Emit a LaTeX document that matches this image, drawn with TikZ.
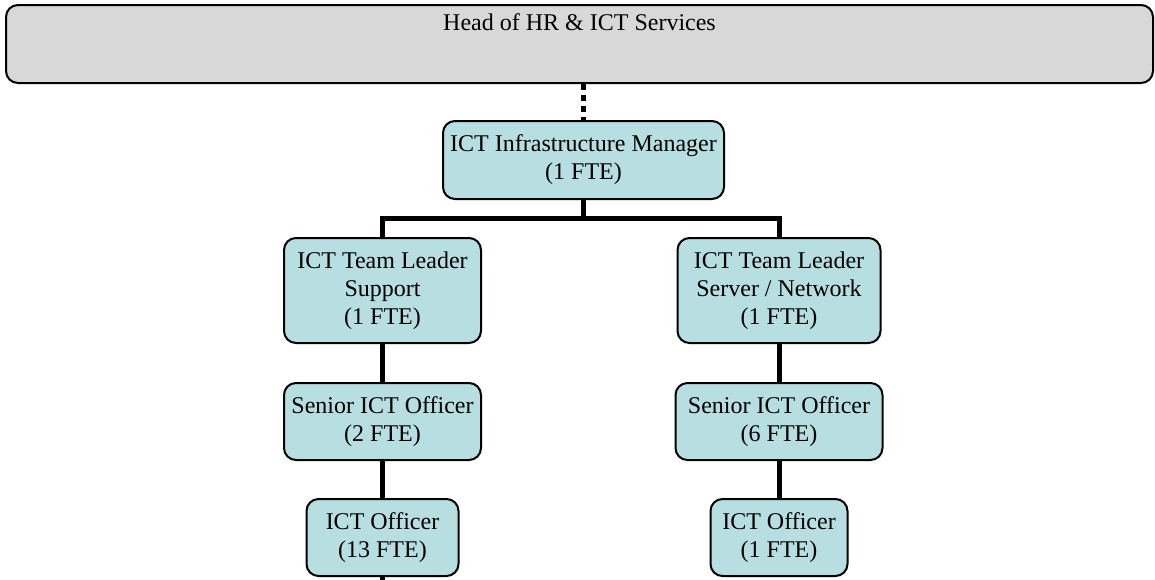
\documentclass[tikz,border=0pt]{standalone}
\usepackage{fontspec}
\setmainfont{Liberation Serif}
\begin{document}
\begin{tikzpicture}[x=0.5pt, y=-0.5pt,
        post/.style = {draw, line width=1pt, rounded corners=6pt, fill=postfill, align=center, font=\fontsize{12}{14}\selectfont, inner sep=2pt},
        link/.style = {line width=2.5pt}]
        \definecolor{postfill}{RGB}{183,222,225}
        \definecolor{headfill}{RGB}{216,216,216}
        \useasboundingbox (0, 0) rectangle (1155, 579);

        \node[post, fill=headfill, minimum width=573.5pt, text height=10.5pt, text depth=24.5pt] (head) at (579.5, 44) {Head of HR \& ICT Services};

        \node[post, minimum width=140.5pt, minimum height=39pt] (infra) at (583.5, 160) {ICT Infrastructure Manager\\(1 FTE)};
        \coordinate (bar) at (583.5, 218);

        \node[post, minimum width=98.5pt, minimum height=52.5pt] (leadsup) at (382.5, 290.5) {ICT Team Leader\\Support\\(1 FTE)};
        \node[post, minimum width=101.5pt, minimum height=52.5pt] (leadnet) at (779, 290.5) {ICT Team Leader\\Server / Network\\(1 FTE)};

        \node[post, minimum width=98.5pt, minimum height=38.5pt] (seniorsup) at (382.5, 421.5) {Senior ICT Officer\\(2 FTE)};
        \node[post, minimum width=103.5pt, minimum height=38.5pt] (seniornet) at (779, 421.5) {Senior ICT Officer\\(6 FTE)};

        \node[post, minimum width=76pt, minimum height=38.5pt] (officersup) at (382.5, 537.5) {ICT Officer\\(13 FTE)};
        \node[post, minimum width=68.5pt, minimum height=38.5pt] (officernet) at (779, 537.5) {ICT Officer\\(1 FTE)};
        \coordinate (more) at (382.5, 590);

        % reporting lines
        \draw[link, dash pattern=on 3pt off 2.5pt] (head.south -| infra.north) -- (infra.north);
        \draw[link] (infra) -- (bar);
        \draw[link] (leadsup.north) |- (bar) -| (leadnet.north);
        \draw[link] (leadsup) -- (seniorsup);
        \draw[link] (seniorsup) -- (officersup);
        \draw[link] (officersup) -- (more);
        \draw[link] (leadnet) -- (seniornet);
        \draw[link] (seniornet) -- (officernet);
    \end{tikzpicture}
\end{document}
